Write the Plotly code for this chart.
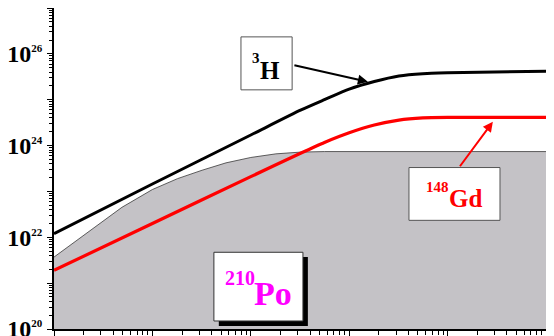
import plotly.graph_objects as go

# Values.
x_vals = [1, 10, 100, 320, 560, 1000, 1800, 3200, 5600, 10000, 100000]
h3_vals = [1.2e22, 1.45e23, 1.7e24, 5.9e24, 1.0e25, 1.7e25, 2.5e25, 3.3e25,
           3.7e25, 3.85e25, 4.2e25]
gd148_vals = [1.9e21, 2.0e22, 2.1e23, 6.8e23, 1.17e24, 1.9e24, 2.8e24, 3.6e24,
              4.0e24, 4.1e24, 4.1e24]

po_x = [1, 4.9, 10, 18, 32, 56, 100, 180, 320, 560, 100000]
po_vals = [3.7e21, 4.5e22, 1.1e23, 1.9e23, 2.9e23, 4.2e23, 5.5e23, 6.6e23,
           7.2e23, 7.4e23, 7.4e23]

y_tick_vals = [1e20, 1e21, 1e22, 1e23, 1e24, 1e25, 1e26, 1e27]
y_tick_text = ["10<sup><span style='font-size:11px'>20</span></sup>", "",
               "10<sup><span style='font-size:11px'>22</span></sup>", "",
               "10<sup><span style='font-size:11px'>24</span></sup>", "",
               "10<sup><span style='font-size:11px'>26</span></sup>", ""]

serif = "Liberation Serif"

fig = go.Figure()

# 210Po area
fig.add_trace(go.Scatter(
    x=po_x, y=po_vals, mode="lines",
    line=dict(color="#3a3a3a", width=0.8),
    fill="tozeroy", fillcolor="#c4c2c6",
))

# 148Gd
fig.add_trace(go.Scatter(
    x=x_vals, y=gd148_vals, mode="lines", line_shape="spline",
    line=dict(color="#ff0000", width=3.2, smoothing=0.6),
))

# 3H
fig.add_trace(go.Scatter(
    x=x_vals, y=h3_vals, mode="lines", line_shape="spline",
    line=dict(color="#000000", width=3, smoothing=0.6),
))

# the page body adds an 8px offset, so the figure is 8px smaller
fig.update_layout(
    width=546, height=328,
    margin=dict(l=46, r=8, t=0, b=7),
    paper_bgcolor="white", plot_bgcolor="white",
    showlegend=False,
    font=dict(family=serif, color="black"),
)

fig.update_xaxes(
    type="log", range=[0, 5], automargin=False,
    showline=True, linecolor="black", linewidth=2, mirror=True,
    showgrid=False, zeroline=False,
    ticks="outside", ticklen=7, tickwidth=1.2, tickcolor="black",
    dtick=1, showticklabels=False,
    minor=dict(ticks="outside", ticklen=4, tickwidth=1, tickcolor="black",
               dtick="D1", showgrid=False),
)

fig.update_yaxes(
    type="log", range=[20, 27], automargin=False,
    showline=True, linecolor="black", linewidth=2, mirror=True,
    showgrid=False, zeroline=False,
    tickmode="array", tickvals=y_tick_vals, ticktext=y_tick_text,
    ticks="outside", ticklen=5, tickwidth=1.2, tickcolor="black",
    tickfont=dict(family=serif, size=24, color="black", weight="bold"),
    ticklabeloverflow="allow",
    minor=dict(ticks="outside", ticklen=3, tickwidth=1, tickcolor="black",
               dtick="D1", showgrid=False),
)

bold = dict(family=serif, weight="bold")
anchor = dict(xref="paper", yref="paper", showarrow=False,
              xanchor="center", yanchor="middle")

# Po label box with a drop shadow
fig.add_shape(type="rect", xref="paper", yref="paper",
              x0=0.335, x1=0.516, y0=0.009, y1=0.224,
              fillcolor="black", line=dict(width=0), layer="above")
fig.add_shape(type="rect", xref="paper", yref="paper",
              x0=0.325, x1=0.506, y0=0.025, y1=0.239,
              fillcolor="white", line=dict(color="#333333", width=1), layer="above")
fig.add_annotation(x=0.4461, y=0.1102, text="Po",
                   font=dict(size=34, color="#ff00ff", **bold), **anchor)
fig.add_annotation(x=0.379, y=0.160, text="210",
                   font=dict(size=20, color="#ff00ff", **bold), **anchor)

# 3H label box and arrow
fig.add_shape(type="rect", xref="paper", yref="paper",
              x0=0.380, x1=0.484, y0=0.745, y1=0.910,
              fillcolor="white", line=dict(color="#555555", width=1), layer="above")
fig.add_annotation(x=0.440, y=0.806, text="H",
                   font=dict(size=25, color="black", **bold), **anchor)
fig.add_annotation(x=0.4096, y=0.843, text="3",
                   font=dict(size=15, color="black", **bold), **anchor)
fig.add_annotation(
    x=3.19, y=25.39, xref="x", yref="y", text="",
    showarrow=True, arrowhead=2, arrowsize=1, arrowwidth=2, arrowcolor="black",
    ax=-75, ay=-17,
)

# 148Gd label box and arrow
fig.add_shape(type="rect", xref="paper", yref="paper",
              x0=0.7215, x1=0.9065, y0=0.3385, y1=0.503,
              fillcolor="white", line=dict(color="#555555", width=1), layer="above")
fig.add_annotation(x=0.8364, y=0.4068, text="Gd",
                   font=dict(size=25, color="#ff0000", **bold), **anchor)
fig.add_annotation(x=0.7795, y=0.441, text="148",
                   font=dict(size=15, color="#ff0000", **bold), **anchor)
fig.add_annotation(
    x=4.46, y=24.52, xref="x", yref="y", text="",
    showarrow=True, arrowhead=2, arrowsize=1, arrowwidth=2, arrowcolor="#ff0000",
    ax=-34, ay=46,
)

fig.write_html("out.html")
